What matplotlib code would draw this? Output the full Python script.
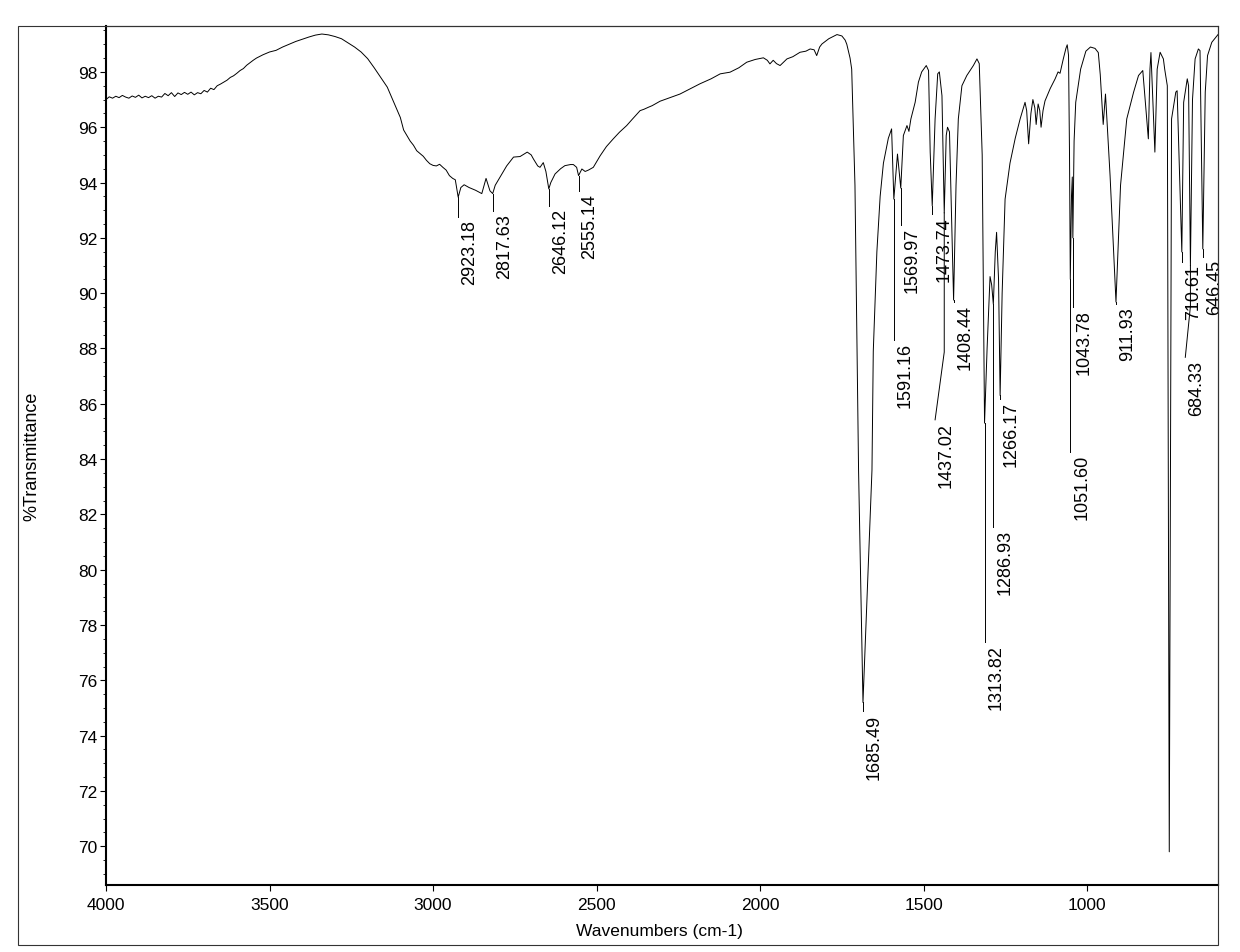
import numpy as np
import matplotlib
matplotlib.use("Agg")
import matplotlib.pyplot as plt
from matplotlib.patches import Rectangle
from matplotlib.transforms import offset_copy

plt.rcParams['font.family'] = ['Liberation Sans', 'DejaVu Sans']

# spectrum: wavenumber (cm-1) and %T
wavenumber = [
    4000, 3990, 3980, 3970, 3960, 3950, 3940, 3930, 3920, 3910,
    3900, 3890, 3880, 3870, 3860, 3850, 3840, 3830, 3820, 3810,
    3800, 3790, 3780, 3770, 3760, 3750, 3740, 3730, 3720, 3710,
    3700, 3690, 3680, 3670, 3660, 3650, 3640, 3630, 3620, 3610,
    3600, 3590, 3580, 3570, 3560, 3550, 3540, 3520, 3500, 3480,
    3460, 3440, 3420, 3400, 3380, 3360, 3340, 3320, 3300, 3280,
    3260, 3240, 3220, 3200, 3180, 3160, 3140, 3120, 3100, 3090,
    3080, 3070, 3060, 3050, 3040, 3030, 3020, 3010, 3000, 2990,
    2980, 2970, 2960, 2950, 2940, 2932, 2923.18, 2915, 2905, 2890,
    2870, 2851, 2838, 2826, 2817.63, 2810, 2795, 2775, 2754, 2734,
    2712, 2700, 2693, 2680, 2673, 2663, 2655, 2646.12, 2640, 2627,
    2610, 2597, 2580, 2571, 2561, 2555.14, 2545, 2535, 2525, 2510,
    2500, 2489, 2470, 2449, 2430, 2408, 2390, 2367, 2355, 2342,
    2330, 2306, 2280, 2245, 2215, 2184, 2150, 2122, 2092, 2065,
    2041, 2015, 1990, 1978, 1970, 1960, 1950, 1939, 1918, 1900,
    1878, 1860, 1847, 1835, 1827, 1818, 1811, 1790, 1765, 1750,
    1740, 1735, 1725, 1720, 1710, 1699, 1685.49, 1658, 1654, 1643,
    1633, 1623, 1608, 1598, 1591.16, 1580, 1569.97, 1562, 1551, 1545,
    1539, 1526, 1516, 1506, 1492, 1485, 1480, 1473.74, 1465, 1457,
    1452, 1444, 1437.02, 1431, 1427, 1421, 1408.44, 1401, 1394, 1383,
    1368, 1348, 1337, 1330, 1321, 1313.82, 1306, 1297, 1292, 1286.93,
    1281, 1277, 1271, 1266.17, 1260, 1251, 1236, 1220, 1205, 1190,
    1185, 1179, 1172, 1166, 1160, 1156, 1150, 1145, 1141, 1135,
    1129, 1113, 1098, 1089, 1083, 1073, 1065, 1061, 1057, 1054,
    1051.60, 1048, 1045.5, 1043.78, 1040, 1035, 1020, 1004, 990, 976,
    966, 960, 951, 944, 930, 911.93, 898, 879, 858, 843,
    830, 822, 813, 808, 805, 793, 786, 777, 767, 763,
    755, 749, 742, 729, 725, 710.61, 705, 694, 690, 684.33,
    678, 670, 660, 655, 646.45, 639, 632, 619, 603, 600,
]
transmittance = [
    97.00, 97.10, 97.05, 97.12, 97.07, 97.15, 97.09, 97.05, 97.13, 97.08,
    97.16, 97.06, 97.12, 97.07, 97.14, 97.05, 97.12, 97.09, 97.22, 97.14,
    97.25, 97.11, 97.24, 97.18, 97.26, 97.19, 97.27, 97.17, 97.25, 97.21,
    97.33, 97.27, 97.41, 97.36, 97.50, 97.56, 97.63, 97.70, 97.80, 97.86,
    97.95, 98.05, 98.12, 98.24, 98.33, 98.42, 98.50, 98.62, 98.72, 98.78,
    98.90, 99.00, 99.10, 99.18, 99.26, 99.33, 99.37, 99.34, 99.28, 99.20,
    99.05, 98.90, 98.72, 98.48, 98.15, 97.80, 97.45, 96.90, 96.35, 95.90,
    95.70, 95.50, 95.35, 95.15, 95.05, 94.95, 94.80, 94.68, 94.62, 94.60,
    94.66, 94.55, 94.45, 94.25, 94.15, 94.10, 93.47, 93.82, 93.92, 93.82,
    93.72, 93.60, 94.15, 93.70, 93.60, 93.90, 94.20, 94.60, 94.92, 94.94,
    95.10, 95.00, 94.85, 94.60, 94.55, 94.72, 94.40, 93.77, 94.00, 94.31,
    94.50, 94.61, 94.65, 94.65, 94.55, 94.25, 94.49, 94.40, 94.45, 94.55,
    94.75, 94.97, 95.30, 95.58, 95.82, 96.06, 96.30, 96.60, 96.65, 96.72,
    96.78, 96.94, 97.05, 97.20, 97.38, 97.57, 97.75, 97.93, 97.99, 98.15,
    98.35, 98.45, 98.51, 98.42, 98.29, 98.42, 98.30, 98.23, 98.47, 98.55,
    98.71, 98.75, 98.83, 98.80, 98.59, 98.90, 99.01, 99.20, 99.35, 99.30,
    99.15, 99.00, 98.50, 98.10, 93.90, 83.60, 75.20, 83.60, 87.90, 91.50,
    93.50, 94.70, 95.60, 95.94, 93.40, 95.03, 93.80, 95.70, 96.06, 95.85,
    96.30, 96.90, 97.63, 98.00, 98.23, 98.05, 95.10, 93.16, 96.30, 97.93,
    98.00, 97.14, 92.90, 95.70, 96.00, 95.83, 89.75, 93.90, 96.30, 97.50,
    97.87, 98.23, 98.47, 98.30, 95.00, 85.30, 88.00, 90.60, 90.30, 89.60,
    91.50, 92.20, 90.50, 86.30, 90.00, 93.40, 94.70, 95.60, 96.30, 96.90,
    96.60, 95.40, 96.50, 97.00, 96.70, 96.10, 96.84, 96.60, 96.00, 96.60,
    96.95, 97.40, 97.75, 98.00, 97.95, 98.47, 98.85, 98.98, 98.60, 95.00,
    90.50, 93.50, 94.20, 92.00, 95.50, 96.90, 98.10, 98.75, 98.90, 98.85,
    98.70, 97.90, 96.10, 97.20, 94.25, 89.68, 93.90, 96.30, 97.27, 97.87,
    98.05, 96.90, 95.58, 98.10, 98.70, 95.10, 98.10, 98.71, 98.47, 98.10,
    97.50, 69.80, 96.30, 97.27, 97.32, 91.49, 96.90, 97.75, 97.50, 91.00,
    97.00, 98.47, 98.83, 98.77, 91.60, 97.27, 98.59, 99.07, 99.31, 99.35,
]

# peak labels
peak_wn = [2923.18, 2817.63, 2646.12, 2555.14, 1685.49, 1591.16, 1569.97,
           1473.74, 1437.02, 1408.44, 1313.82, 1286.93, 1266.17, 1051.60,
           1043.78, 911.93, 710.61, 684.33, 646.45]
label_top = [92.68, 92.90, 93.08, 93.62, 74.80, 88.23, 92.39,
             92.79, 85.34, 89.60, 77.30, 81.47, 86.10, 84.18,
             89.43, 89.53, 91.05, 87.60, 91.23]
# where the label sits when the leader is bent
label_wn = [2923.18, 2817.63, 2646.12, 2555.14, 1685.49, 1591.16, 1569.97,
            1473.74, 1465.0, 1408.44, 1313.82, 1286.93, 1266.17, 1051.60,
            1043.78, 911.93, 710.61, 700.0, 646.45]
bend_T = [None, None, None, None, None, None, None,
          None, 87.87, None, None, None, None, None,
          None, None, None, 89.53, None]

wn = np.array(wavenumber)
tr = np.array(transmittance)

fig = plt.figure(figsize=(12.4, 9.53), dpi=100)
ax = fig.add_axes([106 / 1240, 1 - 886 / 953, 1112 / 1240, 859 / 953])

ax.plot(wn, tr, color='black', lw=0.7)

peak_T = np.interp(peak_wn, wn[::-1], tr[::-1])
txt_tr = offset_copy(ax.transData, fig=fig, x=3, y=0, units='dots')
for i in range(len(peak_wn)):
    end_T = label_top[i] + 0.08
    if bend_T[i] is None:
        ax.plot([peak_wn[i], peak_wn[i]], [peak_T[i], end_T], color='black', lw=0.7)
    else:
        ax.plot([peak_wn[i], peak_wn[i], label_wn[i]],
                [peak_T[i], bend_T[i], end_T], color='black', lw=0.7)
    ax.text(label_wn[i], label_top[i], "%.2f" % peak_wn[i], transform=txt_tr,
            rotation=90, ha='left', va='top', fontsize=13)

ax.set_xlim(4000, 600)
ax.set_ylim(68.6, 99.66)
ax.set_xticks([4000, 3500, 3000, 2500, 2000, 1500, 1000])
ax.set_yticks(np.arange(70, 99, 2))
ax.set_yticks(np.arange(69, 99.6, 0.5), minor=True)
ax.tick_params(axis='both', which='major', direction='out', length=4,
               width=0.8, labelsize=12.5)
ax.tick_params(axis='x', pad=5)
ax.tick_params(axis='y', pad=2)
ax.tick_params(axis='y', which='minor', direction='out', length=2.5, width=0.6)

for side in ['left', 'bottom']:
    ax.spines[side].set_linewidth(1.5)
for side in ['top', 'right']:
    ax.spines[side].set_linewidth(0.8)

ax.set_xlabel("Wavenumbers (cm-1)", fontsize=12.5)
ax.xaxis.set_label_coords(0.498, -0.044)
ax.set_ylabel("%Transmittance", fontsize=13)
ax.yaxis.set_label_coords(-0.059, 0.5)

fig.patches.append(Rectangle((18 / 1240, 1 - 946 / 953), 1200 / 1240, 919 / 953,
                             transform=fig.transFigure, fill=False,
                             lw=0.8, ec='#333333'))

fig.savefig("out.png", dpi=100)
